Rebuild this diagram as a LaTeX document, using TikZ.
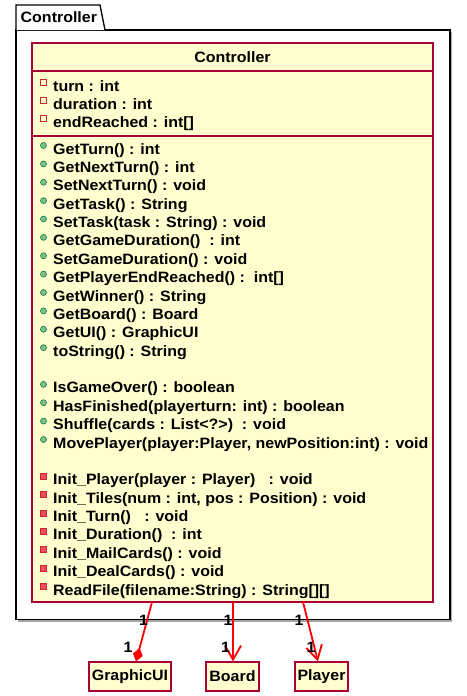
\documentclass[tikz,border=0pt]{standalone}
\usepackage{fontspec}
\setmainfont{Liberation Sans}[FakeStretch=1.065]
\usetikzlibrary{arrows.meta}

\definecolor{umlfill}{HTML}{FEFECE}
\definecolor{umlborder}{HTML}{A80036}
\definecolor{linkred}{HTML}{FF0000}
\definecolor{privline}{HTML}{C82930}
\definecolor{privfill}{HTML}{F24D5C}
\definecolor{pubfill}{HTML}{84BE84}
\definecolor{publine}{HTML}{038048}

\tikzset{
  umlfont/.style={font=\fontsize{15}{17}\selectfont\bfseries},
  umltext/.style={umlfont, inner sep=0pt, anchor=base west},
  classbox/.style={draw=umlborder, fill=umlfill, line width=1.1pt, inner sep=0pt},
  smallbox/.style={classbox, umlfont, minimum height=29pt, inner xsep=0pt},
  pkgbox/.style={draw=black, fill=white, line width=1.3pt, inner sep=0pt},
  privattr/.style={rectangle, draw=privline, fill=none, line width=0.8pt, minimum size=5.5pt, inner sep=0pt},
  privmeth/.style={rectangle, draw=privline, fill=privfill, line width=0.6pt, minimum size=6pt, inner sep=0pt},
  pubmeth/.style={circle, draw=publine, fill=pubfill, line width=0.6pt, minimum size=6pt, inner sep=0pt},
  link/.style={draw=linkred, line width=1.8pt},
  navtip/.style={-{Straight Barb[length=14pt,width=16pt,line width=1.8pt]}},
  comptip/.style={-{Diamond[length=14pt,width=10pt]}},
  mult/.style={umlfont, inner sep=0pt},
}

% one member line of the class: name, baseline, marker style, text
\newcommand{\memberrow}[4]{%
  \node[umltext] (#1) at (53,{#2}) {#4};
  \node[#3] (#1-icon) at (43.5,{#2-8.5}) {};
}

\begin{document}
\begin{tikzpicture}[x=1pt,y=-1pt]
  \useasboundingbox (0,0) rectangle (466,696);

  % package frame with its tab
  \fill[black!35] (18,32) rectangle (452,621.5);
  \node[pkgbox, minimum width=434pt, minimum height=589.5pt] (pkg) at (233,324.75) {};
  \draw[pkgbox] (16,30) -- (16,5) -- (100,5) -- (105,30);
  \node[umltext] (pkgname) at (20.5,22.5) {Controller};

  % the Controller class
  \node[classbox, minimum width=401pt, minimum height=559pt] (cls) at (232.5,322.5) {};
  \node[umlfont, inner sep=0pt, anchor=base] (clsname) at (232.5,62.5) {Controller};
  \draw[umlborder, line width=1.1pt] (32,71) -- (433,71);
  \draw[umlborder, line width=1.1pt] (32,136) -- (433,136);

  % attributes
  \memberrow{a0}{91}{privattr}{turn : int}
  \memberrow{a1}{109}{privattr}{duration : int}
  \memberrow{a2}{127}{privattr}{endReached : int[]}

  % public operations
  \memberrow{m0}{154+18.375*0}{pubmeth}{GetTurn() : int}
  \memberrow{m1}{154+18.375*1}{pubmeth}{GetNextTurn() : int}
  \memberrow{m2}{154+18.375*2}{pubmeth}{SetNextTurn() : void}
  \memberrow{m3}{154+18.375*3}{pubmeth}{GetTask() : String}
  \memberrow{m4}{154+18.375*4}{pubmeth}{SetTask(task : String) : void}
  \memberrow{m5}{154+18.375*5}{pubmeth}{GetGameDuration()~\ : int}
  \memberrow{m6}{154+18.375*6}{pubmeth}{SetGameDuration() : void}
  \memberrow{m7}{154+18.375*7}{pubmeth}{GetPlayerEndReached() :~\ int[]}
  \memberrow{m8}{154+18.375*8}{pubmeth}{GetWinner() : String}
  \memberrow{m9}{154+18.375*9}{pubmeth}{GetBoard() : Board}
  \memberrow{m10}{154+18.375*10}{pubmeth}{GetUI() : GraphicUI}
  \memberrow{m11}{154+18.375*11}{pubmeth}{toString() : String}

  \memberrow{m13}{154+18.375*13}{pubmeth}{IsGameOver() : boolean}
  \memberrow{m14}{154+18.375*14}{pubmeth}{HasFinished(playerturn: int) : boolean}
  \memberrow{m15}{154+18.375*15}{pubmeth}{Shuffle(cards : List<?>)~\ : void}
  \memberrow{m16}{154+18.375*16}{pubmeth}{MovePlayer(player:Player, newPosition:int) : void}

  % private operations
  \memberrow{m18}{154+18.375*18}{privmeth}{Init\_Player(player : Player)~~\ : void}
  \memberrow{m19}{154+18.375*19}{privmeth}{Init\_Tiles(num : int, pos : Position) : void}
  \memberrow{m20}{154+18.375*20}{privmeth}{Init\_Turn()~~\ : void}
  \memberrow{m21}{154+18.375*21}{privmeth}{Init\_Duration()~\ : int}
  \memberrow{m22}{154+18.375*22}{privmeth}{Init\_MailCards() : void}
  \memberrow{m23}{154+18.375*23}{privmeth}{Init\_DealCards() : void}
  \memberrow{m24}{154+18.375*24}{privmeth}{ReadFile(filename:String) : String[][]}

  % associated classes
  \node[smallbox, minimum width=82pt] (gui) at (130,676.5) {GraphicUI};
  \node[smallbox, minimum width=53pt] (board) at (232.5,676.5) {Board};
  \node[smallbox, minimum width=53pt] (player) at (321.5,676.5) {Player};

  % link ends on the class bottom edge
  \coordinate (cls-gui) at (152,602);
  \coordinate (cls-board) at (233,602);
  \coordinate (cls-player) at (303,602);

  \draw[link, comptip] (cls-gui) -- ([xshift=6pt]gui.north);
  \draw[link, navtip] (cls-board) -- ([xshift=0.5pt]board.north);
  \draw[link, navtip] (cls-player) -- ([xshift=-3.5pt]player.north);

  % multiplicities
  \node[mult] (mg1) at (143.5,620) {1};
  \node[mult] (mg2) at (128,647) {1};
  \node[mult] (mb1) at (228,620) {1};
  \node[mult] (mb2) at (225.5,647) {1};
  \node[mult] (mp1) at (299,620) {1};
  \node[mult] (mp2) at (311,647) {1};
\end{tikzpicture}
\end{document}
